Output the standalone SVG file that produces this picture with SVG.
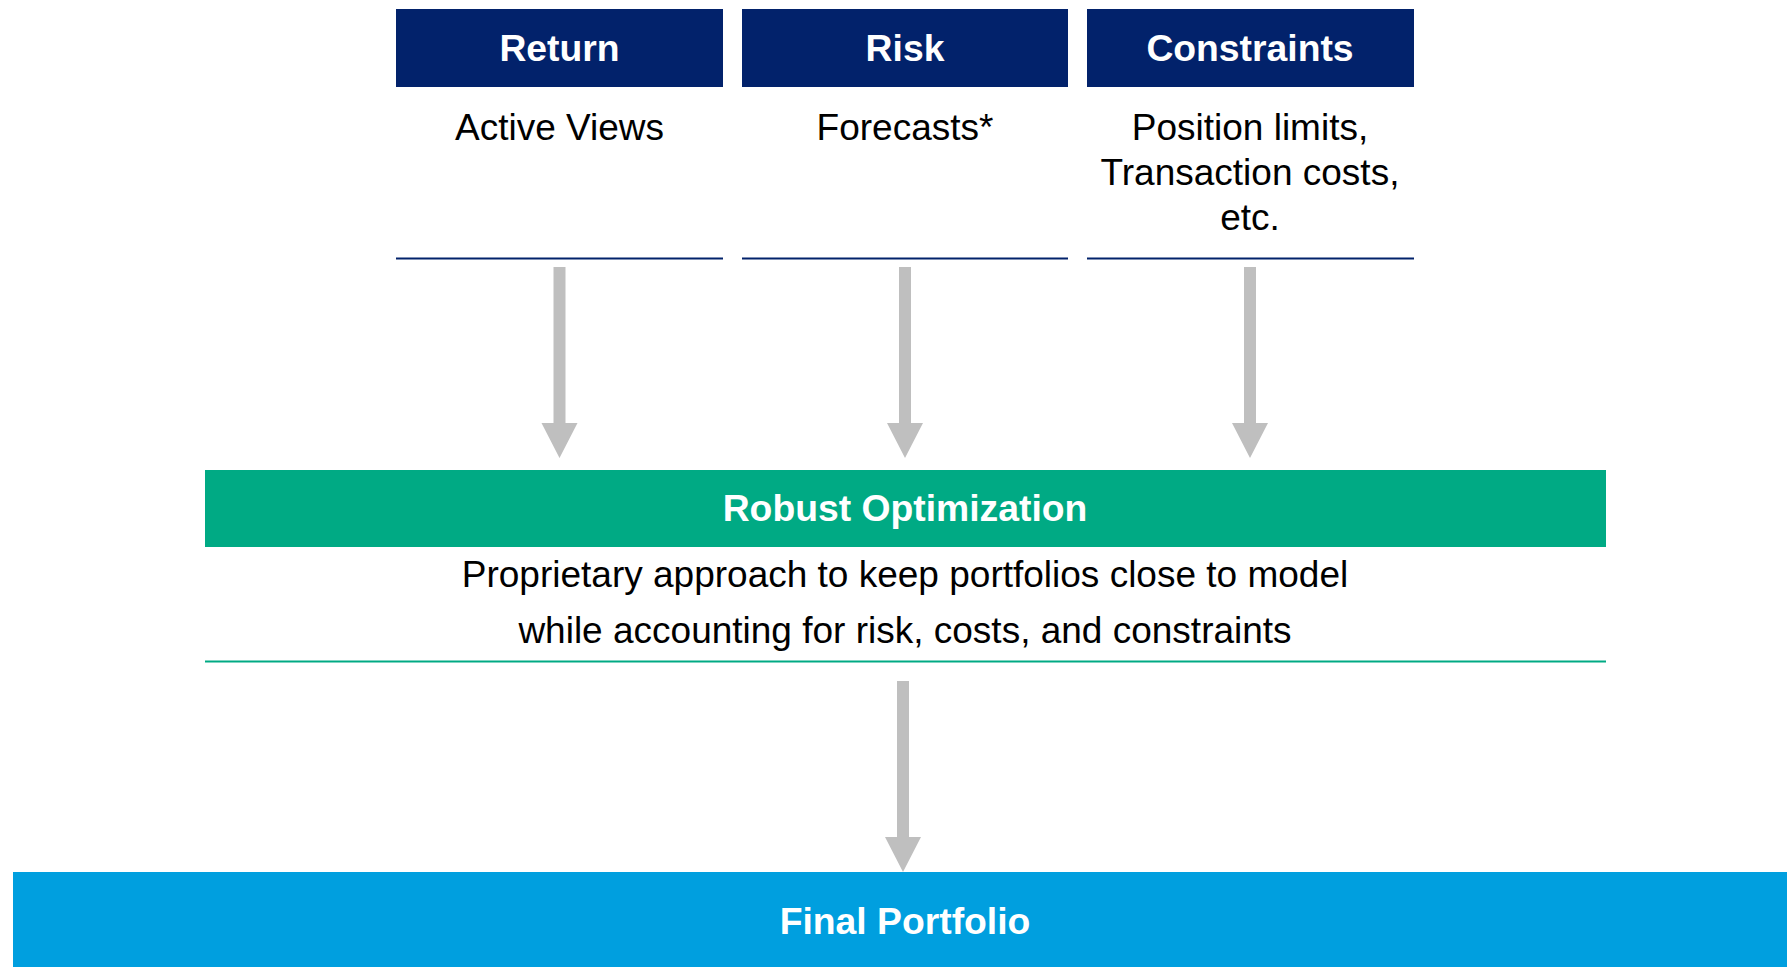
<svg xmlns="http://www.w3.org/2000/svg" width="1787" height="967" viewBox="0 0 1787 967">
<style>
.hdr{fill:#02226B}
.hdrt{font-family:"Liberation Sans",Arial,sans-serif;font-weight:bold;font-size:37.3px;fill:#fff;text-anchor:middle}
.body{font-family:"Liberation Sans",Arial,sans-serif;font-size:37px;fill:#000;text-anchor:middle}
.ul{stroke:#02226B;stroke-width:2}
.arrow{fill:#BFBFBF}
</style>
<rect width="1787" height="967" fill="#fff"/>
<g id="return">
<rect class="hdr" x="396" y="9" width="327" height="78"/>
<text class="hdrt" x="559.5" y="61">Return</text>
<text class="body" x="559.5" y="140">Active Views</text>
<line class="ul" x1="396" y1="258.5" x2="723" y2="258.5"/>
</g>
<g id="risk">
<rect class="hdr" x="742" y="9" width="326" height="78"/>
<text class="hdrt" x="905" y="61">Risk</text>
<text class="body" x="905" y="140">Forecasts*</text>
<line class="ul" x1="742" y1="258.5" x2="1068" y2="258.5"/>
</g>
<g id="constraints">
<rect class="hdr" x="1087" y="9" width="327" height="78"/>
<text class="hdrt" x="1250" y="61">Constraints</text>
<text class="body" x="1250" y="140">Position limits,</text>
<text class="body" x="1250" y="185">Transaction costs,</text>
<text class="body" x="1250" y="230">etc.</text>
<line class="ul" x1="1087" y1="258.5" x2="1414" y2="258.5"/>
</g>
<g id="robust-optimization">
<rect x="205" y="470" width="1401" height="77" fill="#00AA84"/>
<text class="hdrt" x="905" y="521">Robust Optimization</text>
<text class="body" x="905" y="587">Proprietary approach to keep portfolios close to model</text>
<text class="body" x="905" y="643">while accounting for risk, costs, and constraints</text>
<line x1="205" y1="661.5" x2="1606" y2="661.5" stroke="#00AA84" stroke-width="2"/>
</g>
<g id="final-portfolio">
<rect x="13" y="872" width="1774" height="95" fill="#009FDF"/>
<text class="hdrt" x="905" y="934">Final Portfolio</text>
</g>
<g id="connectors">
<polygon class="arrow" points="553.5,267 565.5,267 565.5,423 577.5,423 559.5,458 541.5,423 553.5,423"/>
<polygon class="arrow" points="899,267 911,267 911,423 923,423 905,458 887,423 899,423"/>
<polygon class="arrow" points="1244,267 1256,267 1256,423 1268,423 1250,458 1232,423 1244,423"/>
<polygon class="arrow" points="897,681 909,681 909,837 921,837 903,872 885,837 897,837"/>
</g>
</svg>
